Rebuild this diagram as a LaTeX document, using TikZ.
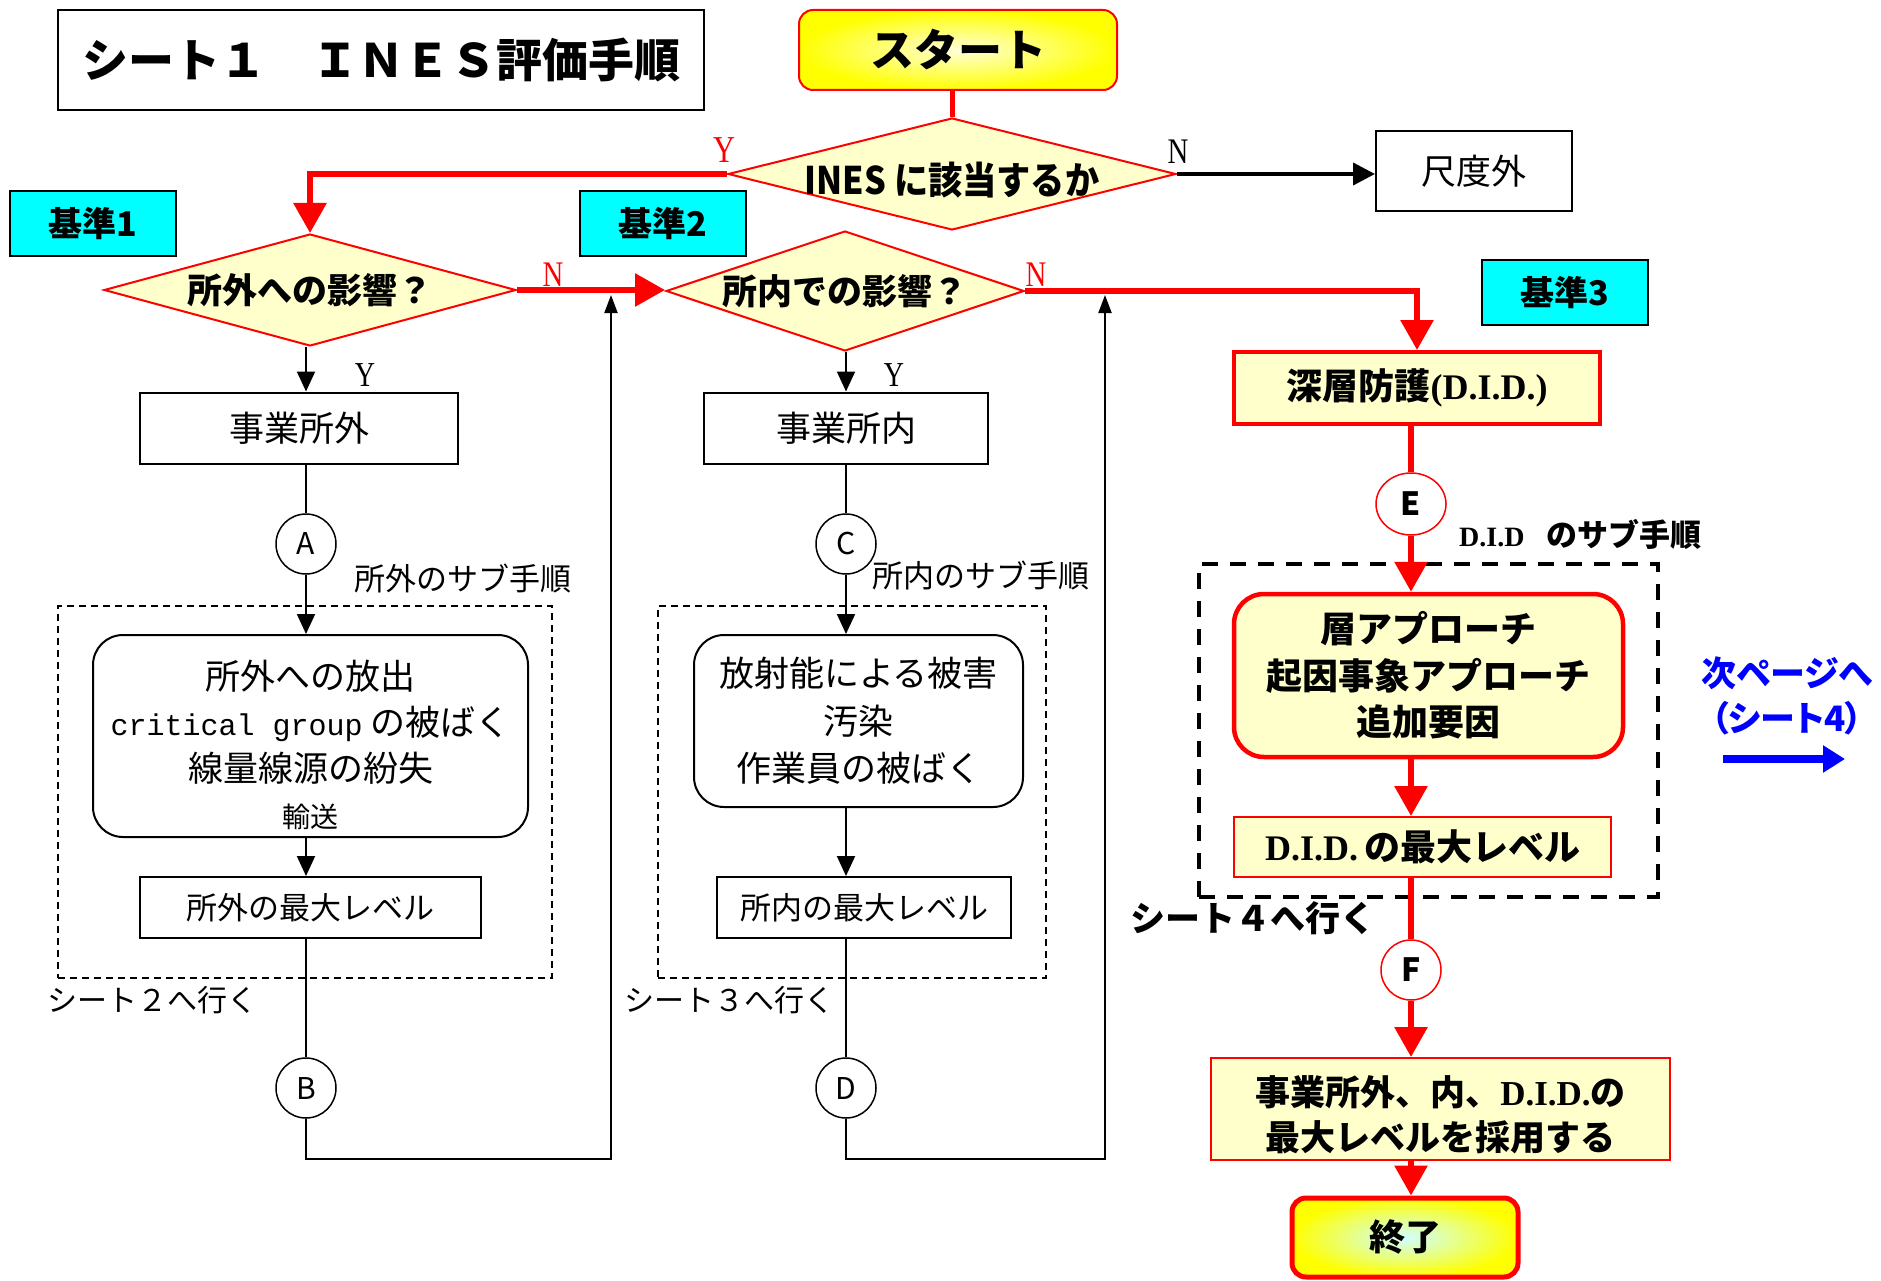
\documentclass[tikz,border=0pt]{standalone}
\usepackage{fontspec}
\setmainfont{Noto Sans CJK JP}
\newfontfamily\jpc[FakeStretch=0.9]{Noto Sans CJK JP}
\newfontfamily\jpp[RawFeature=+palt]{Noto Sans CJK JP}
\newfontfamily\srf{Liberation Serif}
\newfontfamily\srfc[FakeStretch=0.8]{Liberation Serif}
\newfontfamily\mno{Liberation Mono}
\usetikzlibrary{shapes.geometric,arrows.meta}
\definecolor{lyel}{HTML}{FFFFCC}
\definecolor{cyn}{HTML}{00FFFF}
\newcommand\fs[1]{\fontsize{#1}{#1}\selectfont}
\newcommand\fsb[2]{\fontsize{#1}{#2}\selectfont}
\begin{document}
\begin{tikzpicture}[x=1pt,y=-1pt,
  box/.style={draw, line width=2pt, inner sep=0pt, align=center},
  kbox/.style={draw, line width=2.5pt, fill=cyn, inner sep=0pt, minimum width=166pt, minimum height=65pt},
  dia/.style={diamond, draw=red, line width=2pt, fill=lyel, inner sep=0pt},
  circ/.style={circle, draw, line width=1.5pt, fill=white, inner sep=0pt, minimum size=60pt},
  rcirc/.style={ellipse, draw=red, line width=1.5pt, fill=white, inner sep=0pt},
  dbox/.style={draw, line width=1.5pt, dash pattern=on 7pt off 5pt, inner sep=0pt},
  dboxb/.style={draw, line width=4pt, dash pattern=on 16pt off 12pt, inner sep=0pt},
  rbox/.style={draw, line width=2pt, rounded corners=30pt, fill=white, inner sep=0pt, align=center},
  ybox/.style={draw=red, fill=lyel, inner sep=0pt, align=center},
  rarr/.style={draw=red, line width=6pt, -{Triangle[length=30pt,width=32pt]}},
  rline/.style={draw=red, line width=6pt},
  barr/.style={line width=2pt, -{Triangle[length=20pt,width=18pt]}},
  bline/.style={line width=2pt},
  uparr/.style={line width=2pt, -{Triangle[length=18pt,width=13pt]}},
  lbl/.style={inner sep=0pt}
]
\useasboundingbox (0,0) rectangle (1881,1281);

% dashed sub-procedure frames
\node[dbox, minimum width=494pt, minimum height=372pt] (s1) at (305,792) {};
\node[dbox, minimum width=388pt, minimum height=372pt] (s2) at (852,792) {};
\node[dboxb, minimum width=459pt, minimum height=333pt] (s3) at (1428.5,730.5) {};

% title and start
\node[box, minimum width=646pt, minimum height=100pt] (title) at (381,60) {\fs{46}\bfseries シート１　ＩＮＥＳ評価手順};
\node[draw=red, line width=2pt, rounded corners=14pt, inner color=white!85!yellow, outer color=yellow,
      minimum width=318pt, minimum height=80pt, inner sep=0pt] (start) at (958,50) {\fs{44}\bfseries スタート};

% decisions
\node[dia, minimum width=448pt, minimum height=112pt] (ines) at (952,174) {\makebox[0pt]{\raisebox{-21pt}[0pt][0pt]{\jpc\fs{38}\bfseries INES に該当するか}}};
\node[dia, minimum width=412pt, minimum height=112pt] (d1) at (310,290) {\makebox[0pt]{\fs{35}\bfseries 所外への影響？}};
\node[dia, minimum width=358pt, minimum height=120pt] (d2) at (845,291) {\makebox[0pt]{\fs{35}\bfseries 所内での影響？}};

\node[box, minimum width=196pt, minimum height=80pt] (out) at (1474,171) {\fs{35}尺度外};

% criteria tags
\node[kbox] (k1) at (93,223.5) {\fs{34}\bfseries 基準1};
\node[kbox] (k2) at (663,223.5) {\fs{34}\bfseries 基準2};
\node[kbox] (k3) at (1565,292.5) {\fs{34}\bfseries 基準3};

% column 1
\node[box, minimum width=318pt, minimum height=71pt] (b1) at (299,428) {\fs{35}事業所外};
\node[circ] (A) at (306,544) {\fs{30}A};
\node[lbl, anchor=west] (la) at (354,578) {\fs{31}所外のサブ手順};
\node[rbox, minimum width=435pt, minimum height=202pt, font={\fsb{35}{46}}] (r1) at (310.5,736)
  {\rule{0pt}{47pt}所外への放出\\{\mno\fs{30}critical group} の被ばく\\線量線源の紛失\\{\fs{28}輸送}};
\node[box, minimum width=341pt, minimum height=61pt] (m1) at (310.5,907.5) {\fs{31}所外の最大レベル};
\node[lbl, anchor=west] (g2) at (47,1000) {\fs{30}シート２へ行く};
\node[circ] (B) at (306,1088) {\fs{30}B};
\coordinate (j1) at (611,295);
\coordinate (c1) at (611,1159);

% column 2
\node[box, minimum width=284pt, minimum height=71pt] (b2) at (846,428) {\fs{35}事業所内};
\node[circ] (C) at (846,544) {\fs{30}C};
\node[lbl, anchor=west] (lc) at (872,575) {\fs{31}所内のサブ手順};
\node[rbox, minimum width=329pt, minimum height=172pt, font={\fsb{35}{47.5}}] (r2) at (858.5,721)
  {放射能による被害\\汚染\\作業員の被ばく};
\node[box, minimum width=294pt, minimum height=61pt] (m2) at (864,907.5) {\fs{31}所内の最大レベル};
\node[lbl, anchor=west] (g3) at (624,1000) {\fs{30}シート３へ行く};
\node[circ] (D) at (846,1088) {\fs{30}D};
\coordinate (j2) at (1105,295);
\coordinate (c2) at (1105,1159);

% column 3
\node[ybox, line width=4pt, minimum width=366pt, minimum height=72pt] (did) at (1417,388) {\fs{36}\bfseries 深層防護{\srf(D.I.D.)}};
\node[rcirc, minimum width=70pt, minimum height=62pt] (E) at (1411,504) {\fs{32}\bfseries E};
\node[lbl, anchor=west] (ld) at (1459,534) {{\srf\bfseries\fs{28}D.I.D}\hspace{22pt}{\fs{31}\bfseries のサブ手順}};
\node[ybox, line width=4.5pt, rounded corners=30pt, minimum width=389pt, minimum height=163pt, font={\bfseries\fsb{36}{46.5}}] (r3) at (1428.5,675.5)
  {層アプローチ\\起因事象アプローチ\\追加要因};
\node[ybox, line width=2pt, minimum width=377pt, minimum height=60pt] (dmax) at (1422.5,847) {\fs{36}\bfseries{\srf D.I.D.\,}の最大レベル};
\node[lbl, anchor=west] (g4) at (1130,918) {\fs{35}\bfseries シート４へ行く};
\node[rcirc, minimum width=60pt, minimum height=60pt] (F) at (1411,970) {\fs{32}\bfseries F};
\node[ybox, line width=2pt, minimum width=459pt, minimum height=102pt, font={\bfseries\fsb{35}{45}}] (final) at (1440.5,1109)
  {\rule{0pt}{41pt}事業所外、内、{\srf D.I.D.}の\\最大レベルを採用する};
\node[draw=red, line width=5pt, rounded corners=14pt, inner color=cyan!18!white, outer color=yellow,
      minimum width=226pt, minimum height=79pt, inner sep=0pt] (end) at (1405,1237.5) {\fs{36}\bfseries 終了};

% next page note
\node[lbl, align=center, text=blue, font={\jpp\bfseries\fsb{35}{45.5}}] (nx) at (1787,696) {次ページへ\\（シート4）};
\coordinate (ba) at (1723,759);
\coordinate (bb) at (1845,759);
\draw[blue, line width=8pt, -{Triangle[length=22pt,width=26pt]}] (ba) -- (bb);

% Y / N labels
\node[lbl, text=red] (y0) at (724,150) {\srfc\fs{38}Y};
\node[lbl] (n0) at (1178,152) {\srfc\fs{36}N};
\node[lbl, text=red] (n1) at (553,275) {\srfc\fs{36}N};
\node[lbl, text=red] (n2) at (1036,275) {\srfc\fs{36}N};
\node[lbl] (y1) at (365,375) {\srfc\fs{35}Y};
\node[lbl] (y2) at (894,375) {\srfc\fs{35}Y};

% red main flow
\draw[rline, line width=5pt] (start.south -| ines.north) -- (ines.north);
\draw[rarr] (ines.west) -| (d1.north);
\draw[rarr] (d1.east) -- (d1.east -| d2.west);
\draw[rarr] (d2.east) -| (did.north);
\draw[line width=4pt, -{Triangle[length=22pt,width=22pt]}] (ines.east) -- (ines.east -| out.west);

% column 1 flow
\draw[barr] (d1.south -| A) -- (A |- b1.north);
\draw[bline] (A |- b1.south) -- (A.north);
\draw[barr] (A.south) -- (A |- r1.north);
\draw[barr] (A |- r1.south) -- (A |- m1.north);
\draw[bline] (A |- m1.south) -- (B.north);
\draw[uparr] (B.south) |- (c1) -- (j1);

% column 2 flow
\draw[barr] (d2.south -| C) -- (C |- b2.north);
\draw[bline] (C |- b2.south) -- (C.north);
\draw[barr] (C.south) -- (C |- r2.north);
\draw[barr] (C |- r2.south) -- (C |- m2.north);
\draw[bline] (C |- m2.south) -- (D.north);
\draw[uparr] (D.south) |- (c2) -- (j2);

% column 3 flow
\draw[rline] (E |- did.south) -- (E.north);
\draw[rarr] (E.south) -- (E |- r3.north);
\draw[rarr] (E |- r3.south) -- (E |- dmax.north);
\draw[rline] (E |- dmax.south) -- (F.north);
\draw[rarr] (F.south) -- (F |- final.north);
\draw[rarr] (F |- final.south) -- (F |- end.north);
\end{tikzpicture}
\end{document}
